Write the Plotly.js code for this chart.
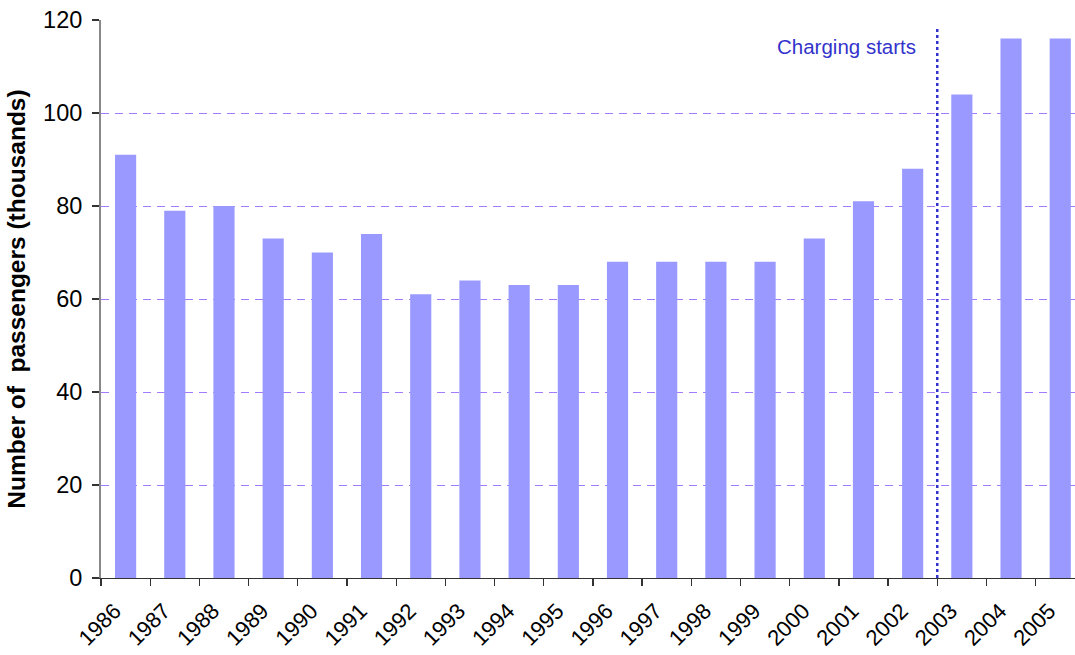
<!DOCTYPE html>
<html>
<head>
<meta charset="utf-8">
<script src="https://cdn.plot.ly/plotly-3.0.1.min.js"></script>
<style>html,body{margin:0;padding:0;background:#fff;}#chart{width:1075px;height:655px;}</style>
</head>
<body>
<div id="chart"></div>
<script>
const years = ['1986','1987','1988','1989','1990','1991','1992','1993','1994','1995','1996','1997','1998','1999','2000','2001','2002','2003','2004','2005'];
const passengers = [91,79,80,73,70,74,61,64,63,63,68,68,68,68,73,81,88,104,116,116];
const eventLabel = 'Charging starts';
const eventYear = '2003';
const yTicks = [0,20,40,60,80,100,120];

const eventIdx = years.indexOf(eventYear) - 0.5;
const FONT = 'Arial, "Liberation Sans", sans-serif';

const trace = {
  type: 'bar',
  x: years,
  y: passengers,
  width: 0.43,
  marker: {color: '#9999ff', line: {width: 0}},
  hoverinfo: 'x+y'
};

const layout = {
  width: 1075, height: 655,
  margin: {l: 101, r: 0, t: 20, b: 77, pad: 0},
  paper_bgcolor: '#ffffff',
  plot_bgcolor: '#ffffff',
  showlegend: false,
  font: {family: FONT, color: '#000'},
  xaxis: {
    type: 'category',
    range: [-0.5, 19.3],
    tickson: 'boundaries',
    ticks: 'outside',
    ticklen: 7,
    tickcolor: '#333',
    tickwidth: 1.3,
    showline: true,
    linecolor: '#333',
    linewidth: 1.3,
    showgrid: false,
    tickangle: -45,
    ticklabelstandoff: 10,
    ticklabelshift: -11,
    tickfont: {size: 22, family: FONT},
    zeroline: false
  },
  yaxis: {
    range: [0, 120],
    tickvals: yTicks,
    ticks: 'outside',
    ticklen: 7,
    tickcolor: '#333',
    tickwidth: 1.3,
    showline: true,
    linecolor: '#888',
    linewidth: 2,
    showgrid: true,
    gridcolor: '#a07aff',
    griddash: '8px,6px',
    gridwidth: 1,
    zeroline: false,
    ticklabelstandoff: 5,
    tickfont: {size: 23.5, family: FONT},
    title: {text: 'Number of\u00a0 passengers (thousands)', font: {size: 24.5, family: FONT, weight: 'bold'}, standoff: 11}
  },
  shapes: [{
    type: 'line', xref: 'x', yref: 'y',
    x0: eventIdx, x1: eventIdx, y0: 0, y1: 118.7,
    line: {color: '#3333cc', width: 2.5, dash: 'dot'}
  }],
  annotations: [{
    xref: 'x', yref: 'y',
    x: eventIdx, y: 114.3,
    xanchor: 'right', yanchor: 'middle',
    xshift: -19,
    text: eventLabel, showarrow: false,
    font: {size: 20.5, color: '#3333cc', family: FONT}
  }]
};

Plotly.newPlot('chart', [trace], layout, {staticPlot: true, displayModeBar: false});
</script>
</body>
</html>
